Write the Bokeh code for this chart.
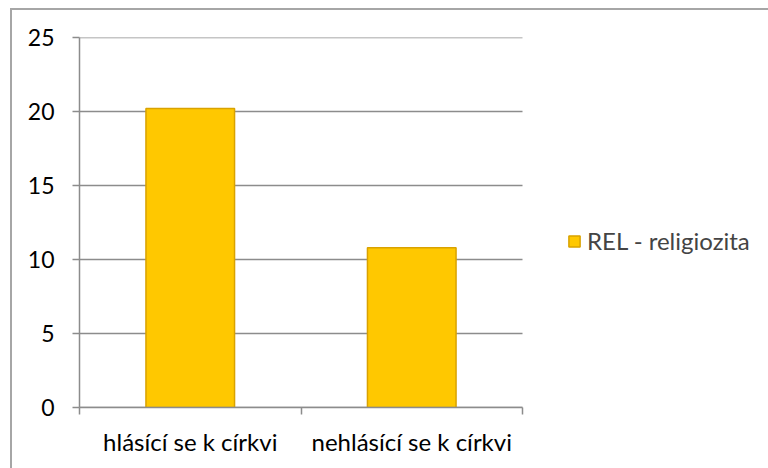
from bokeh.plotting import figure
from bokeh.models import FixedTicker, ColumnDataSource, Legend, LegendItem
from bokeh.embed import file_html
from bokeh.resources import INLINE

categories = ["hlásící se k církvi", "nehlásící se k církvi"]
values = [20.2, 10.8]
series_name = "REL - religiozita"
y_ticks = [0, 5, 10, 15, 20, 25]

n = len(categories)
xs = [i + 0.5 for i in range(n)]
src = ColumnDataSource(dict(x=xs, top=values))

FONT = "Lato"
GRID = "#8c8c8c"

W, H = 758, 460
MBL, MBT, MBR, MBB = 67, 27, 8, 63
cat_px = 443.0  # pixel width of the category area
frame_px = W - MBL - MBR
x_end = n * frame_px / cat_px

p = figure(width=W, height=H, output_backend="svg", toolbar_location=None,
           x_range=(0, x_end), y_range=(0, 25),
           min_border_left=MBL, min_border_top=MBT, min_border_right=MBR, min_border_bottom=MBB)
p.styles = {"border-top": "2px solid #a6a6a6", "border-left": "2px solid #a6a6a6",
            "transform": "translate(10px, 8px)"}
p.outline_line_color = None
p.background_fill_color = "white"

# horizontal grid lines limited to the category area
grid_src = ColumnDataSource(dict(y=y_ticks, x0=[0] * len(y_ticks), x1=[n] * len(y_ticks)))
p.segment(x0="x0", x1="x1", y0="y", y1="y", source=grid_src,
          line_color=GRID, line_width=1.5, level="underlay")

r = p.vbar(x="x", top="top", width=0.4, bottom=0, source=src,
           fill_color="#FFC800", line_color="#D9A200", line_width=1.5)

p.xgrid.visible = False
p.ygrid.visible = False

p.yaxis.ticker = FixedTicker(ticks=y_ticks)
p.yaxis.axis_line_color = GRID
p.yaxis.axis_line_width = 1.5
p.yaxis.major_tick_line_color = GRID
p.yaxis.major_tick_line_width = 1.5
p.yaxis.major_tick_in = 0
p.yaxis.major_tick_out = 7
p.yaxis.minor_tick_line_color = None
p.yaxis.major_label_text_font = FONT
p.yaxis.major_label_text_font_size = "23px"
p.yaxis.major_label_text_color = "black"
p.yaxis.major_label_standoff = 18

p.xaxis.ticker = FixedTicker(ticks=xs, minor_ticks=list(range(n + 1)))
p.xaxis.bounds = (0, n)
p.xaxis.major_label_overrides = {x: c for x, c in zip(xs, categories)}
p.xaxis.axis_line_color = GRID
p.xaxis.axis_line_width = 1.5
p.xaxis.major_tick_line_color = None
p.xaxis.minor_tick_line_color = GRID
p.xaxis.minor_tick_line_width = 1.5
p.xaxis.minor_tick_in = 0
p.xaxis.minor_tick_out = 7
p.xaxis.major_label_text_font = FONT
p.xaxis.major_label_text_font_size = "24px"
p.xaxis.major_label_text_color = "black"
p.xaxis.major_label_standoff = 12

legend = Legend(items=[LegendItem(label=series_name, renderers=[r])],
                location=(488, 152), border_line_color=None, background_fill_alpha=0,
                padding=0, margin=0, glyph_width=14, glyph_height=14, label_standoff=6,
                label_text_font=FONT, label_text_font_size="24px")
p.add_layout(legend, "center")

open("out.html", "w").write(file_html(p, INLINE))
